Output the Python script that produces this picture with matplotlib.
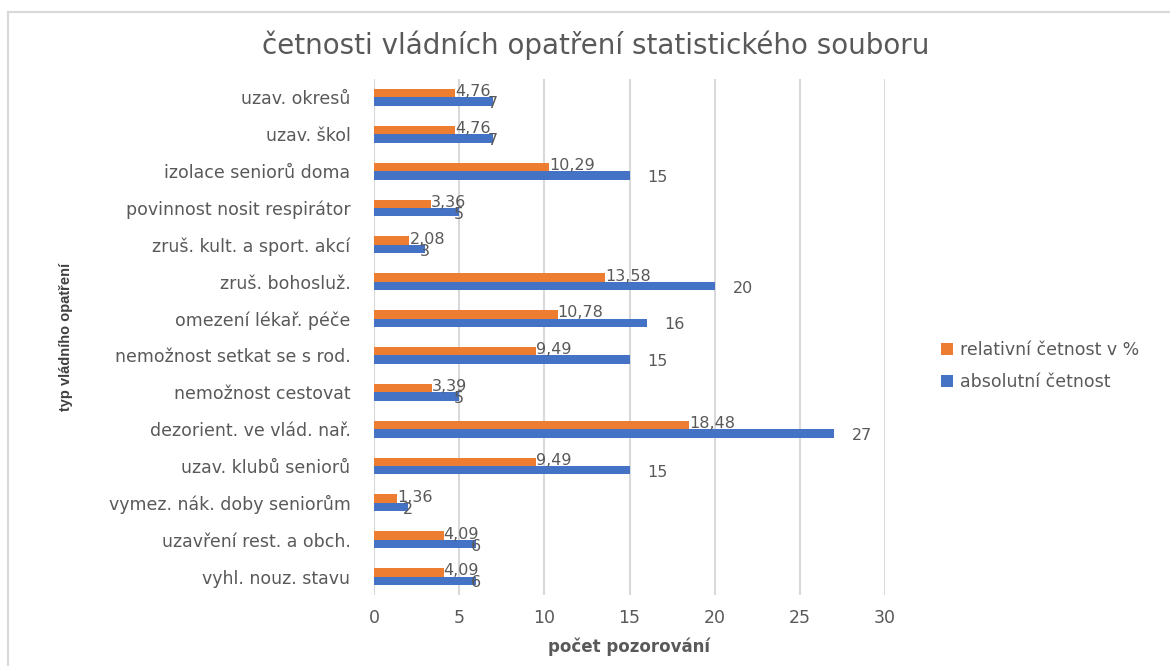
import matplotlib
matplotlib.use("Agg")
import matplotlib.pyplot as plt
from matplotlib.lines import Line2D
from matplotlib import font_manager
import numpy as np

# data (top to bottom as in the chart)
categories = [
    "uzav. okresů",
    "uzav. škol",
    "izolace seniorů doma",
    "povinnost nosit respirátor",
    "zruš. kult. a sport. akcí",
    "zruš. bohosluž.",
    "omezení lékař. péče",
    "nemožnost setkat se s rod.",
    "nemožnost cestovat",
    "dezorient. ve vlád. nař.",
    "uzav. klubů seniorů",
    "vymez. nák. doby seniorům",
    "uzavření rest. a obch.",
    "vyhl. nouz. stavu",
]
absolutni = [7, 7, 15, 5, 3, 20, 16, 15, 5, 27, 15, 2, 6, 6]
relativni = [4.76, 4.76, 10.29, 3.36, 2.08, 13.58, 10.78, 9.49, 3.39, 18.48, 9.49, 1.36, 4.09, 4.09]
xticks = [0, 5, 10, 15, 20, 25, 30]

ORANGE = "#ED7D31"
BLUE = "#4472C4"
GRAY = "#595959"
GRID = "#D9D9D9"

plt.rcParams["font.family"] = ["DejaVu Sans"]

# narrow font for the y axis title, if available
try:
    font_manager.findfont("Liberation Sans Narrow", fallback_to_default=False)
    narrow = ["Liberation Sans Narrow", "DejaVu Sans"]
    narrow_size = 13
except ValueError:
    narrow = ["Liberation Sans", "DejaVu Sans"]
    narrow_size = 10.5

fig = plt.figure(figsize=(11.7, 6.66), dpi=100)
ax = fig.add_axes([374 / 1170, 1 - 595 / 666, (885 - 374) / 1170, (595 - 79) / 666])

y = np.arange(len(categories))
h = 0.23
ax.barh(y - h / 2, relativni, height=h, color=ORANGE, label="relativní četnost v %", zorder=3)
ax.barh(y + h / 2, absolutni, height=h, color=BLUE, label="absolutní četnost", zorder=3)

# data labels
for yi, v in zip(y, relativni):
    ax.annotate(f"{v:.2f}".replace(".", ","), (v, yi - h / 2), xytext=(0, 1),
                textcoords="offset points", ha="left", va="center",
                fontsize=11.5, color=GRAY, zorder=4)
for yi, v in zip(y, absolutni):
    dx = 13 if v >= 10 else -4
    ax.annotate(str(v), (v, yi + h / 2), xytext=(dx, -1.5),
                textcoords="offset points", ha="left", va="center",
                fontsize=11.5, color=GRAY, zorder=4)

ax.set_xlim(0, 30)
ax.set_ylim(len(categories) - 0.5, -0.5)
ax.set_xticks(xticks)
ax.set_yticks(y)
ax.set_yticklabels(categories)
ax.tick_params(axis="y", length=0, pad=17, labelsize=12.5, labelcolor=GRAY)
ax.tick_params(axis="x", length=0, pad=10, labelsize=12.5, labelcolor=GRAY)
ax.grid(axis="x", color=GRID, linewidth=1.5, zorder=0)
for s in ax.spines.values():
    s.set_visible(False)

ax.set_xlabel("počet pozorování", fontsize=12, fontweight="bold", color=GRAY, labelpad=8)
fig.text(66 / 1170, 1 - 337 / 666, "typ vládního opatření", rotation=90,
         ha="center", va="center", fontsize=narrow_size, fontweight="bold", color="#404040",
         family=narrow)

fig.text(596 / 1170, 1 - 45 / 666, "četnosti vládních opatření statistického souboru",
         ha="center", va="center", fontsize=20, color=GRAY)

leg = ax.legend(loc="center left", bbox_to_anchor=(925 / 1170, 1 - 366 / 666),
                bbox_transform=fig.transFigure, frameon=False, fontsize=12.5,
                handlelength=0.7, handleheight=0.7, handletextpad=0.4, labelspacing=0.8)
for t in leg.get_texts():
    t.set_color(GRAY)

# chart frame (left and top edges visible)
fig.add_artist(Line2D([8 / 1170, 8 / 1170], [0, 1 - 12 / 666], transform=fig.transFigure,
                      color=GRID, linewidth=1.5))
fig.add_artist(Line2D([8 / 1170, 1], [1 - 12 / 666, 1 - 12 / 666], transform=fig.transFigure,
                      color=GRID, linewidth=1.5))

fig.savefig("out.png", dpi=100)
